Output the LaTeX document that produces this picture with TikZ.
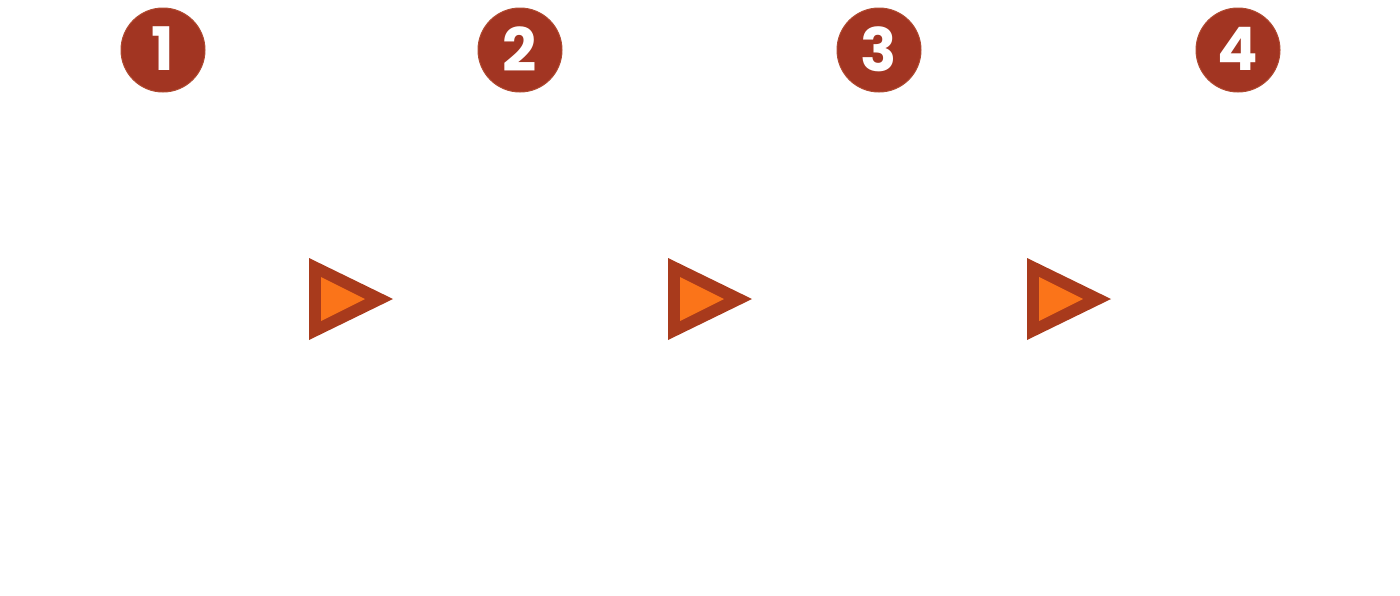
\documentclass[tikz,border=0pt]{standalone}
\usepackage{fontspec}
\setmainfont{DejaVu Sans}
\newfontfamily\badgefont{Poppins}
\begin{document}
\begin{tikzpicture}[x=1pt,y=-1pt,
  badge/.style={circle,fill=badgered,draw=badgeedge,line width=1pt,minimum size=84pt,inner sep=0pt,text=white,font=\badgefont\fontsize{60}{60}\selectfont\bfseries},
  outertri/.style={fill=trirust},
  innertri/.style={fill=triorange}]
\definecolor{badgered}{HTML}{A23522}
\definecolor{badgeedge}{HTML}{B04A30}
\definecolor{trirust}{HTML}{A83A1C}
\definecolor{triorange}{HTML}{FB7419}
\useasboundingbox (0,0) rectangle (1400,595);
\node[badge] (b1) at (163,50) {\raisebox{2pt}{1}};
\node[badge] (b2) at (520,50) {\raisebox{2pt}{2}};
\node[badge] (b3) at (879,50) {\raisebox{2pt}{3}};
\node[badge] (b4) at (1238,50) {\raisebox{2pt}{4}};
\foreach \dx/\n in {0/t1,359/t2,718/t3}{
  \fill[outertri] (309+\dx,258) -- (309+\dx,340) -- (393+\dx,299) -- cycle;
  \fill[innertri] (321+\dx,277) -- (321+\dx,321) -- (365+\dx,299) -- cycle;
}
\end{tikzpicture}
\end{document}
